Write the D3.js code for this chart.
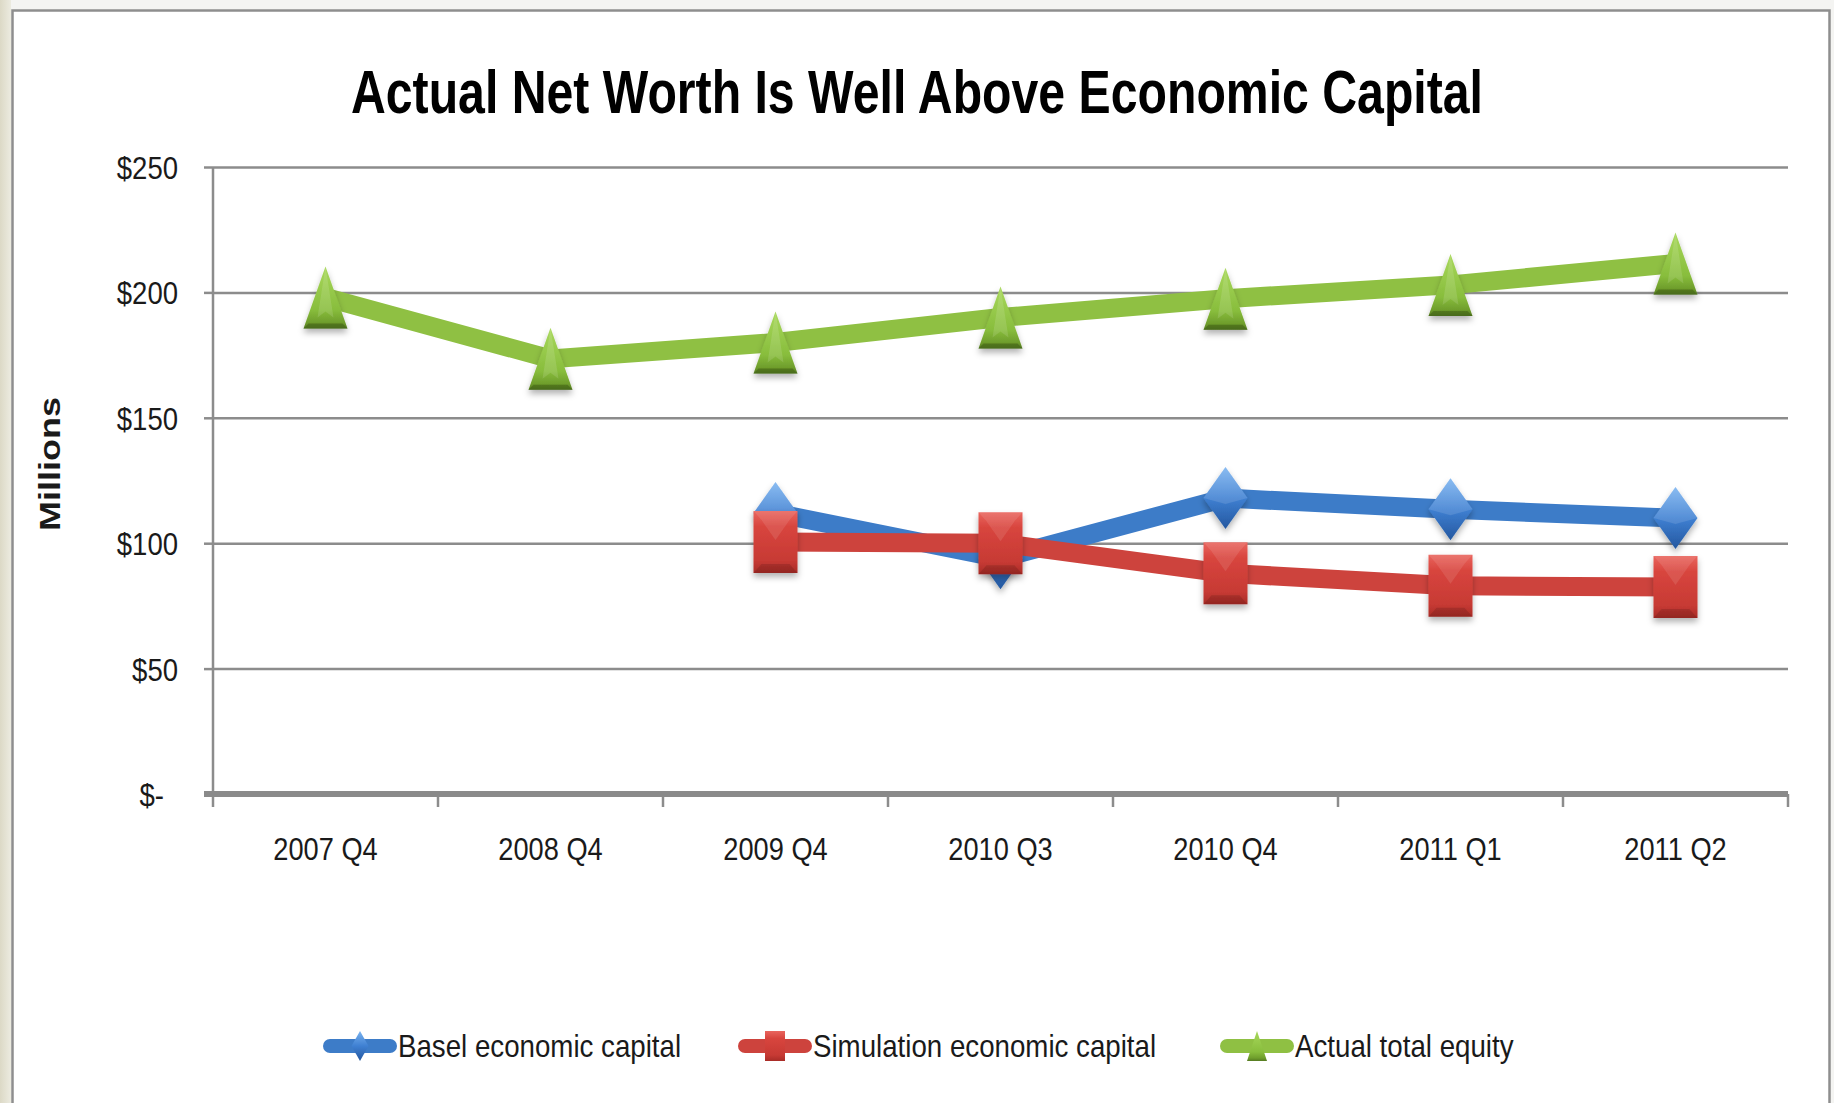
<!DOCTYPE html>
<html><head><meta charset="utf-8">
<script src="https://cdn.jsdelivr.net/npm/d3@7"></script>
<style>html,body{margin:0;padding:0;background:#f3f3f1;}svg{display:block}</style>
</head><body>
<svg id="c" width="1834" height="1103"></svg>
<script>
const categories = ["2007 Q4","2008 Q4","2009 Q4","2010 Q3","2010 Q4","2011 Q1","2011 Q2"];
const baselEconomicCapital = [null,null,112,94,118,113.5,110];
const simulationEconomicCapital = [null,null,100.5,100,88,83,82.5];
const actualTotalEquity = [198,173.5,180,190,197.5,203,211.5];
const yTickValues = [0,50,100,150,200,250];
const yTickLabels = ["$-","$50","$100","$150","$200","$250"];
const seriesNames = ["Basel economic capital","Simulation economic capital","Actual total equity"];
const titleText = "Actual Net Worth Is Well Above Economic Capital";
const yAxisTitle = "Millions";

const svg = d3.select("#c");
const W = 1834, H = 1103;
const plot = {left:213, right:1788, top:167, bottom:794};
const FONT = "'Liberation Sans', Arial, sans-serif";

const defs = svg.append("defs");
function grad(id, stops, x2=0, y2=1){
  const g = defs.append("linearGradient").attr("id",id).attr("x1",0).attr("y1",0).attr("x2",x2).attr("y2",y2);
  stops.forEach(s=>g.append("stop").attr("offset",s[0]).attr("stop-color",s[1]));
}
grad("gBlue",[[0,"#7ab3f0"],[0.5,"#3f80d2"],[1,"#24579f"]]);
grad("gRed",[[0,"#e9655e"],[0.25,"#d8453e"],[0.8,"#c73a34"],[1,"#a82c27"]]);
grad("gGreen",[[0,"#a8d85c"],[0.7,"#88bd3c"],[0.9,"#6f9e2c"],[1,"#557a22"]]);
grad("gLeft",[[0,"#dcd9c6"],[1,"#ecebe0"]],1,0);
const f = defs.append("filter").attr("id","shadow").attr("x","-50%").attr("y","-50%").attr("width","200%").attr("height","200%");
f.append("feDropShadow").attr("dx",0).attr("dy",4).attr("stdDeviation",3).attr("flood-color","#000").attr("flood-opacity",0.3);

// background & frame
svg.append("rect").attr("x",0).attr("y",0).attr("width",W).attr("height",H).attr("fill","#f4f4f2");
svg.append("rect").attr("x",0).attr("y",0).attr("width",11).attr("height",H).attr("fill","url(#gLeft)");
svg.append("rect").attr("x",12.5).attr("y",10.5).attr("width",1817).attr("height",1200)
  .attr("fill","#ffffff").attr("stroke","#8e8e8e").attr("stroke-width",2.5);

const x = d3.scaleBand().domain(categories).range([plot.left, plot.right]).padding(0);
const y = d3.scaleLinear().domain([0,250]).range([plot.bottom, plot.top]);
const cx = c => x(c) + x.bandwidth()/2;

function condense(sel, target){
  sel.each(function(){
    const n = this.getComputedTextLength();
    const t = typeof target === "function" ? target(n, this) : target;
    d3.select(this).attr("textLength", t).attr("lengthAdjust","spacingAndGlyphs");
  });
}

// gridlines
const grid = svg.append("g").attr("transform",`translate(${plot.left},0)`)
  .call(d3.axisLeft(y).tickValues(yTickValues.filter(v=>v>0)).tickSize(-(plot.right-plot.left)).tickFormat(""));
grid.select(".domain").remove();
grid.selectAll(".tick line").attr("stroke","#8c8c8c").attr("stroke-width",2.5);

// y axis
const yAx = svg.append("g").attr("transform",`translate(${plot.left},0)`)
  .call(d3.axisLeft(y).tickValues(yTickValues).tickSize(9).tickPadding(26)
    .tickFormat((d,i)=>yTickLabels[yTickValues.indexOf(d)]));
yAx.select(".domain").attr("d",`M0,${plot.top}V${plot.bottom}`).attr("stroke","#8c8c8c").attr("stroke-width",2.5);
yAx.selectAll(".tick line").attr("stroke","#8c8c8c").attr("stroke-width",2.5);
yAx.selectAll(".tick text").attr("font-family",FONT).attr("font-size",32).attr("fill","#1a1a1a")
  .attr("dy","0.36em")
  .attr("x", d => d===0 ? -49 : -35);
condense(yAx.selectAll(".tick text"), n => n*0.86);

// x axis
const xAx = svg.append("g").attr("transform",`translate(0,${plot.bottom})`)
  .call(d3.axisBottom(x).tickSize(0).tickPadding(43));
xAx.select(".domain").remove();
xAx.selectAll(".tick text").attr("font-family",FONT).attr("font-size",32).attr("fill","#1a1a1a").attr("dy","0.71em");
condense(xAx.selectAll(".tick text"), n => n*0.85);
const bounds = categories.map(c=>x(c)).concat([plot.right]);
svg.append("g").selectAll("line").data(bounds).join("line")
  .attr("x1",d=>d).attr("x2",d=>d).attr("y1",plot.bottom).attr("y2",plot.bottom+13)
  .attr("stroke","#8c8c8c").attr("stroke-width",2.5);
svg.append("line").attr("x1",plot.left-9).attr("x2",plot.right).attr("y1",plot.bottom).attr("y2",plot.bottom)
  .attr("stroke","#8a8a8a").attr("stroke-width",6);

// series
const series = [
  {name:seriesNames[0], values:baselEconomicCapital, color:"#3d7cc8", fill:"url(#gBlue)", shape:"diamond"},
  {name:seriesNames[1], values:simulationEconomicCapital, color:"#cd433d", fill:"url(#gRed)", shape:"square"},
  {name:seriesNames[2], values:actualTotalEquity, color:"#8fc043", fill:"url(#gGreen)", shape:"triangle"}
];
function shapePath(shape, w, h){
  const a=w/2, b=h/2;
  if(shape==="diamond") return `M0,${-b}L${a},0L0,${b}L${-a},0Z`;
  if(shape==="square") return `M${-a},${-b}H${a}V${b}H${-a}Z`;
  return `M0,${-b}L${a},${b}L${-a},${b}Z`;
}
const line = d3.line().defined(d=>d.v!=null).x(d=>cx(d.c)).y(d=>y(d.v));
series.forEach(s=>{
  const pts = categories.map((c,i)=>({c, v:s.values[i]}));
  const g = svg.append("g");
  g.append("path").datum(pts).attr("d",line).attr("fill","none").attr("stroke",s.color)
    .attr("stroke-width",19).attr("stroke-linejoin","round");
  const m = g.selectAll("g.m").data(pts.filter(p=>p.v!=null)).join("g").attr("class","m")
    .attr("transform",p=>`translate(${cx(p.c)},${y(p.v)})`).attr("filter","url(#shadow)");
  m.append("path").attr("d",shapePath(s.shape,44,62)).attr("fill",s.fill);
  if(s.shape==="square"){
    m.append("path").attr("d","M-22,-31H22L14,-22L0,-2L-14,-22Z").attr("fill","#ffffff").attr("opacity",0.1);
    m.append("path").attr("d","M-22,31H22L14,22H-14Z").attr("fill","#000").attr("opacity",0.12);
  }
  if(s.shape==="triangle"){
    m.append("path").attr("d","M-22,31L22,31L17,26H-17Z").attr("fill","#3f5e18").attr("opacity",0.55);
    m.append("path").attr("d","M0,-31L8,20L0,14L-8,20Z").attr("fill","#ffffff").attr("opacity",0.12);
  }
  if(s.shape==="diamond"){
    m.append("path").attr("d","M0,-31L22,0L0,6L-22,0Z").attr("fill","#ffffff").attr("opacity",0.12);
  }
});

// title
const title = svg.append("text").attr("x",917).attr("y",113).attr("text-anchor","middle")
  .attr("font-family",FONT).attr("font-weight","bold").attr("font-size",61).attr("fill","#000").text(titleText);
condense(title, 1132);

// y axis title
const yt = svg.append("text").attr("transform","translate(60,464) rotate(-90)").attr("text-anchor","middle")
  .attr("font-family",FONT).attr("font-weight","bold").attr("font-size",30).attr("fill","#1a1a1a").text(yAxisTitle);
condense(yt, 134);

// legend
const legX = [325, 740, 1222];
const legY = 1046;
const leg = svg.append("g");
series.forEach((s,i)=>{
  const g = leg.append("g").attr("transform",`translate(${legX[i]},${legY})`);
  g.append("line").attr("x1",5).attr("x2",65).attr("y1",0).attr("y2",0).attr("stroke",s.color)
    .attr("stroke-width",14).attr("stroke-linecap","round");
  g.append("path").attr("transform","translate(35,0)").attr("d",shapePath(s.shape,s.shape==="diamond"?17:20,30)).attr("fill",s.fill);
  const t = g.append("text").attr("x",73).attr("y",11).attr("font-family",FONT).attr("font-size",32)
    .attr("fill","#1a1a1a").text(s.name);
  condense(t, n=>n*0.865);
});
</script>
</body></html>
